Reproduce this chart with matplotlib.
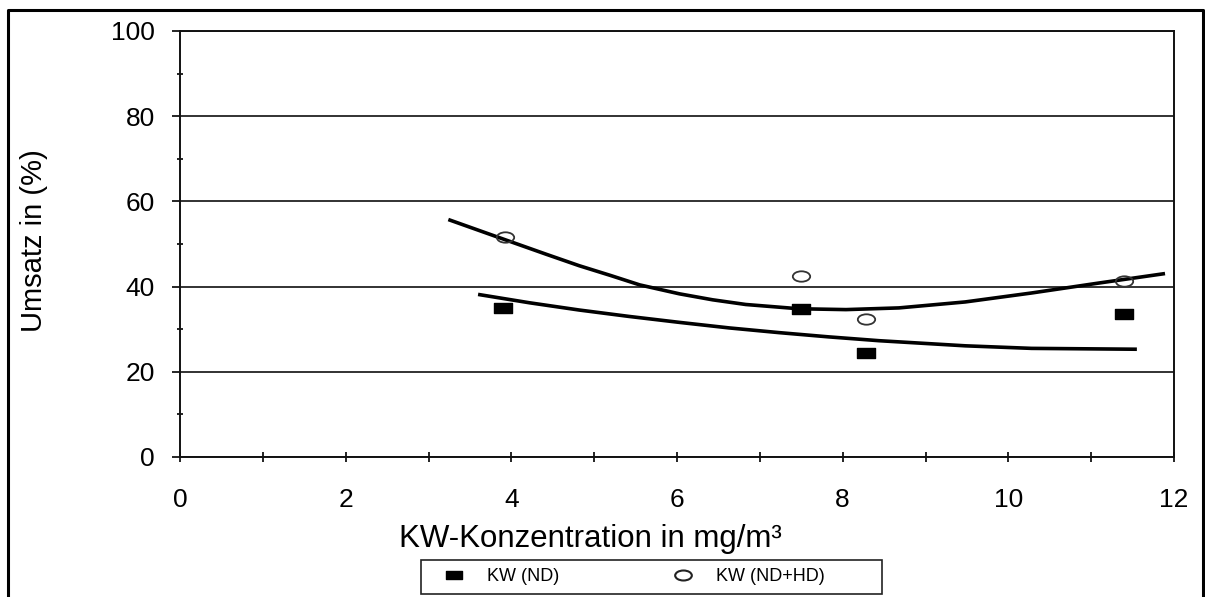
import numpy as np
import matplotlib.pyplot as plt
from matplotlib.path import Path
from matplotlib.lines import Line2D
from matplotlib.patches import Rectangle
from matplotlib.ticker import MultipleLocator

plt.rcParams['font.family'] = ['Liberation Sans', 'DejaVu Sans']

# measured points
nd_x = [3.90, 7.50, 8.28, 11.40]
nd_y = [35.0, 34.8, 24.3, 33.6]
ndhd_x = [3.92, 7.50, 8.28, 11.40]
ndhd_y = [51.6, 42.5, 32.4, 41.3]

# trend lines
upper_x = [3.26, 3.94, 4.42, 4.82, 5.2, 5.55, 6.03, 6.43, 6.83, 7.47, 8.04, 8.68, 9.48, 10.28, 11.08, 11.87]
upper_y = [55.6, 50.9, 47.6, 44.9, 42.6, 40.4, 38.3, 36.9, 35.8, 34.8, 34.6, 35.0, 36.4, 38.5, 40.8, 43.0]
lower_x = [3.62, 4.22, 4.82, 5.42, 6.03, 6.63, 7.23, 7.83, 8.44, 9.48, 10.28, 11.53]
lower_y = [38.1, 36.2, 34.5, 33.0, 31.6, 30.3, 29.2, 28.2, 27.3, 26.1, 25.5, 25.3]

labels = ["KW (ND)", "KW (ND+HD)"]

# wide marker shapes
rect = Path([(-1, -0.5), (1, -0.5), (1, 0.5), (-1, 0.5), (-1, -0.5)],
            [Path.MOVETO, Path.LINETO, Path.LINETO, Path.LINETO, Path.CLOSEPOLY])
circ = Path.unit_circle()
ellipse = Path(circ.vertices * np.array([1.0, 0.6]), circ.codes)

fig = plt.figure(figsize=(12.05, 5.97), dpi=100)
ax = fig.add_axes([180 / 1205, 1 - 457 / 597, 994 / 1205, 426 / 597])

ax.plot(upper_x, upper_y, color='black', lw=2.6, zorder=3)
ax.plot(lower_x, lower_y, color='black', lw=2.6, zorder=3)
ax.plot(nd_x, nd_y, linestyle='none', marker=rect, ms=13.5, color='black', zorder=4)
ax.plot(ndhd_x, ndhd_y, linestyle='none', marker=ellipse, ms=12.5, mfc='none',
        mec='#333333', mew=1.3, zorder=4)

ax.set_xlim(0, 12)
ax.set_ylim(0, 100)
ax.xaxis.set_major_locator(MultipleLocator(2))
ax.xaxis.set_minor_locator(MultipleLocator(1))
ax.yaxis.set_major_locator(MultipleLocator(20))
ax.yaxis.set_minor_locator(MultipleLocator(10))
ax.yaxis.grid(True, which='major', color='#222222', lw=1.3)
ax.set_axisbelow(True)

ax.tick_params(axis='x', which='both', direction='inout', length=7, width=1.2,
               labelsize=19, pad=18.5)
ax.tick_params(axis='y', which='major', direction='out', length=6, width=1.2,
               labelsize=19, pad=12)
ax.tick_params(axis='y', which='minor', direction='inout', length=5, width=1.2)

for s in ax.spines.values():
    s.set_linewidth(1.4)
    s.set_color('#111111')

ax.set_xlabel("KW-Konzentration in mg/m³", fontsize=22.5)
ax.xaxis.set_label_coords(0.4125, -0.157)
ax.set_ylabel("Umsatz in (%)", fontsize=21)
ax.yaxis.set_label_coords(-0.133, 0.509)

# legend below the plot
handles = [Line2D([], [], linestyle='none', marker=rect, ms=12, color='black'),
           Line2D([], [], linestyle='none', marker=ellipse, ms=12, mfc='none',
                  mec='#222222', mew=1.5)]
fig.legend(handles, labels, loc='center left', bbox_to_anchor=(436 / 1205, 0.034),
           ncol=2, frameon=False, fontsize=13, handlelength=1.0,
           handletextpad=1.3, columnspacing=6.4, borderpad=0)
fig.patches.append(Rectangle((421 / 1205, 3 / 597), 461 / 1205, 34 / 597,
                             transform=fig.transFigure, fill=False,
                             edgecolor='#222222', lw=1.2))

# outer frame of the figure
fx0, fx1, fy1 = 8 / 1205, 1203 / 1205, 1 - 10 / 597
fig.lines.append(Line2D([fx0, fx0, fx1, fx1], [0, fy1, fy1, 0],
                        transform=fig.transFigure, color='black', lw=2.2))

fig.savefig("out.png", dpi=100)
